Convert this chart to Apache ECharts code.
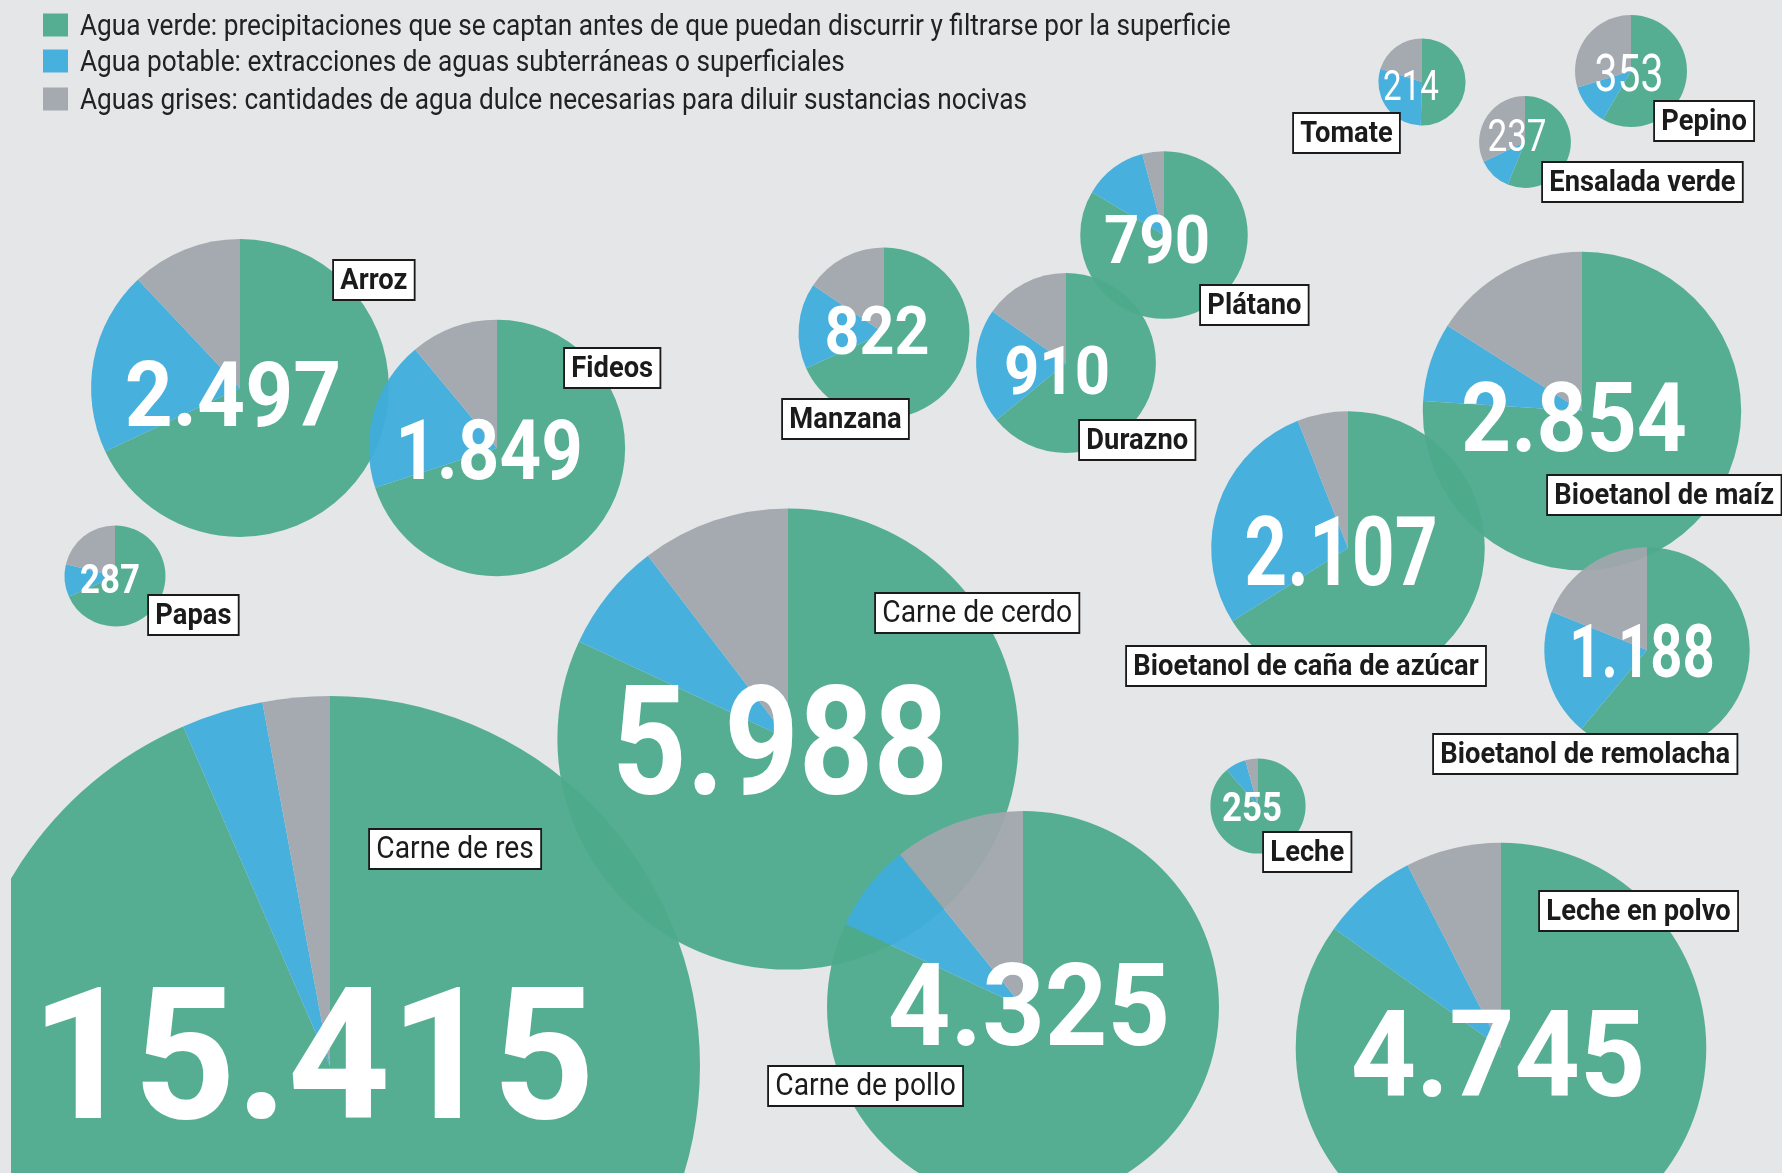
<!DOCTYPE html>
<html>
<head>
<meta charset="utf-8">
<script src="https://cdn.jsdelivr.net/npm/echarts@6/dist/echarts.min.js"></script>
<style>
  html, body { margin: 0; padding: 0; background: #E4E6E7; }
  #chart { width: 1782px; height: 1173px; }
</style>
</head>
<body>
<div id="chart"></div>
<script>
// ---------- DATA (litros de agua por kg de producto) ----------
const waterTypes = [
  'Agua verde: precipitaciones que se captan antes de que puedan discurrir y filtrarse por la superficie',
  'Agua potable: extracciones de aguas subterráneas o superficiales',
  'Aguas grises: cantidades de agua dulce necesarias para diluir sustancias nocivas'
];
const products   = ['Carne de res', 'Carne de cerdo', 'Carne de pollo', 'Leche en polvo', 'Bioetanol de maíz',
                    'Bioetanol de caña de azúcar', 'Arroz', 'Fideos', 'Bioetanol de remolacha', 'Durazno',
                    'Manzana', 'Plátano', 'Pepino', 'Papas', 'Leche', 'Ensalada verde', 'Tomate'];
const greenWater = [14414, 4907, 3545, 4028, 2169, 1391, 1698, 1294, 725, 583, 561, 660, 206, 196, 226, 133, 108];
const blueWater  = [  550,  459,  313,  360,  228,  590,  499,  351, 238, 188, 133,  97,  42,  30,  18,  28,  63];
const greyWater  = [  451,  622,  467,  357,  457,  126,  300,  204, 225, 139, 128,  33, 105,  61,  11,  76,  43];

// ---------- LAYOUT / STYLE ----------
const pieCenters = [[330,1066],[788,739],[1023,1007],[1501,1048],[1582,411],[1348,548],[240,388],[497,448],
                    [1647,650],[1066,363],[884,333],[1164,235],[1631,71],[115,576],[1258,806],[1525,142],[1422,82]];
const numberFontSizes = [184,152,115,120,96,96,91,83,75,67,67,67,51,40,40,45,42];
const numberScaleX    = [0.97,0.855,0.95,0.95,0.91,0.78,0.92,0.875,0.75,0.92,0.91,0.92,0.8,0.87,0.87,0.78,0.79];
const numberOffsets = [[-17,-12],[-8,2],[6,-2],[-3,6],[-8,6],[-7,3],[-7,6],[-8,2],
                       [-5,1],[-9,8],[-7,-2],[-7,5],[-2,2],[-5,3],[-6,1],[-8,-7],[-11,3]];
const numberWeights   = ['bold','bold','bold','bold','bold','bold','bold','bold','bold','bold','bold','bold',
                         'normal','bold','bold','normal','normal'];
const labelBoxes = [[370,830],[876,594],[769,1067],[1540,892],[1548,476],[1127,647],[334,261],[565,349],
                    [1434,735],[1080,421],[783,400],[1201,286],[1655,102],[149,596],[1264,833],[1543,163],[1294,114]];
const labelWeights = ['normal','normal','normal','bold','bold','bold','bold','bold','bold','bold','bold','bold',
                      'bold','bold','bold','bold','bold'];
const legendRows = [25, 61, 99];   // vertical centre of each legend row
const radiusScale = 2.98;           // px per sqrt(litro)
const colors = ['#4DAB8C', '#3FADDC', '#A0A7AD'];
const bg = '#E4E6E7';
const font = 'Roboto, "Liberation Sans", sans-serif';

function fmt(n) {
  return String(n).replace(/\B(?=(\d{3})+(?!\d))/g, '.');
}

const series = products.map((p, i) => {
  const vals = [greenWater[i], blueWater[i], greyWater[i]];
  const total = vals[0] + vals[1] + vals[2];
  return {
    type: 'pie',
    name: p,
    center: pieCenters[i],
    radius: [0, radiusScale * Math.sqrt(total)],
    startAngle: 90,
    clockwise: true,
    animation: false,
    silent: true,
    avoidLabelOverlap: false,
    labelLine: { show: false },
    label: { show: false },
    emphasis: { disabled: true },
    itemStyle: { opacity: 0.95, borderWidth: 0 },
    data: vals.map((v, k) => ({ name: waterTypes[k], value: v, itemStyle: { color: colors[k] } }))
  };
});

const graphics = [];
// totals inside each pie
products.forEach((p, i) => {
  const total = greenWater[i] + blueWater[i] + greyWater[i];
  const fs = numberFontSizes[i];
  graphics.push({
    type: 'text', z: 100, silent: true,
    x: pieCenters[i][0] + numberOffsets[i][0],
    y: pieCenters[i][1] + numberOffsets[i][1] + 0.1 * fs,
    scaleX: numberScaleX[i],
    style: {
      text: fmt(total), fill: '#ffffff', fontFamily: font, fontWeight: numberWeights[i],
      fontSize: fs, align: 'center', verticalAlign: 'middle'
    }
  });
});
// product name boxes
products.forEach((p, i) => {
  graphics.push({
    type: 'text', z: 110, silent: true,
    x: labelBoxes[i][0], y: labelBoxes[i][1],
    scaleX: 0.91,
    style: {
      text: p, fill: '#1b1b1b', fontFamily: font,
      fontSize: labelWeights[i] === 'bold' ? 30 : 31,
      fontWeight: labelWeights[i], lineHeight: 32,
      backgroundColor: '#ffffff', borderColor: '#1b1b1b', borderWidth: 2,
      padding: [4, 7, 2, 7]
    }
  });
});
// legend
waterTypes.forEach((t, k) => {
  graphics.push({
    type: 'rect', z: 120, silent: true,
    shape: { x: 43, y: legendRows[k] - 11.5, width: 25, height: 23 },
    style: { fill: colors[k], opacity: 0.95 }
  });
  graphics.push({
    type: 'text', z: 120, silent: true,
    x: 80, y: legendRows[k] + 2, scaleX: 0.874,
    style: { text: t, fill: '#222222', fontFamily: font, fontSize: 30, verticalAlign: 'middle' }
  });
});
graphics.push({
  type: 'rect', z: 90, silent: true,
  shape: { x: 0, y: 0, width: 11, height: 1173 },
  style: { fill: bg }
});

const chart = echarts.init(document.getElementById('chart'), null, { renderer: 'canvas' });
chart.setOption({
  backgroundColor: bg,
  animation: false,
  series: series,
  graphic: graphics
});
</script>
</body>
</html>
